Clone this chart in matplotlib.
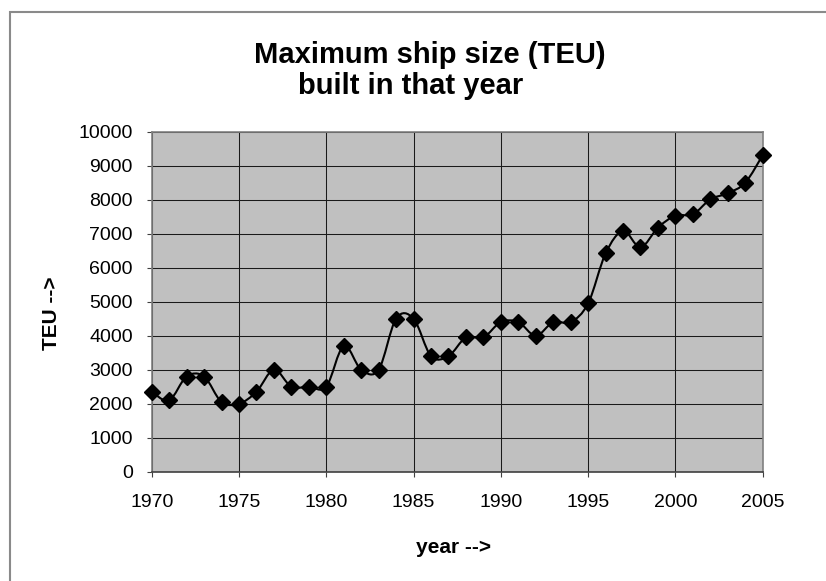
import numpy as np
import matplotlib
matplotlib.use("Agg")
import matplotlib.pyplot as plt
from matplotlib.path import Path
from matplotlib.patches import PathPatch, Rectangle

plt.rcParams['font.family'] = ['Liberation Sans', 'DejaVu Sans']

years = list(range(1970, 2006))
teu = [2350, 2100, 2800, 2800, 2050, 2000, 2350, 3000, 2500, 2500,
       2500, 3700, 3000, 3000, 4500, 4500, 3400, 3400, 3950, 3950,
       4400, 4400, 4000, 4400, 4400, 4950, 6420, 7080, 6600, 7180,
       7530, 7570, 8010, 8190, 8500, 9310]

title_1 = "Maximum ship size (TEU)"
title_2 = "built in that year"
xlabel = "year -->"
ylabel = "TEU -->"

W, H = 826, 581
fig = plt.figure(figsize=(W / 100, H / 100), dpi=100)
# outer chart border, runs off the right and bottom edges
fig.patches.append(Rectangle((9.5 / W, -0.02), 1.0, 1 - 12 / H + 0.02,
                             transform=fig.transFigure, fill=False,
                             edgecolor='#8a8a8a', linewidth=1.5))

ax = fig.add_axes([151.7 / W, 1 - 471.7 / H, (762.7 - 151.7) / W, (471.7 - 131.7) / H])
ax.set_facecolor('#c0c0c0')

# smoothed line: bezier segments through the data points
x = np.array(years, dtype=float)
y = np.array(teu, dtype=float)
verts = [(x[0], y[0])]
codes = [Path.MOVETO]
n = len(x)
for i in range(n - 1):
    p0 = (x[max(i - 1, 0)], y[max(i - 1, 0)])
    p1 = (x[i], y[i])
    p2 = (x[i + 1], y[i + 1])
    p3 = (x[min(i + 2, n - 1)], y[min(i + 2, n - 1)])
    c1 = (p1[0] + (p2[0] - p0[0]) / 6, p1[1] + (p2[1] - p0[1]) / 6)
    c2 = (p2[0] - (p3[0] - p1[0]) / 6, p2[1] - (p3[1] - p1[1]) / 6)
    verts += [c1, c2, p2]
    codes += [Path.CURVE4, Path.CURVE4, Path.CURVE4]
ax.add_patch(PathPatch(Path(verts, codes), facecolor='none', edgecolor='black',
                       linewidth=1.5, zorder=3, clip_on=False))
ax.plot(years, teu, linestyle='none', marker='D', markersize=8.5,
        color='black', zorder=4, clip_on=False)

ax.set_xlim(1970, 2005)
ax.set_ylim(0, 10000)
ax.set_xticks(range(1970, 2006, 5))
ax.set_yticks(range(0, 10001, 1000))
ax.grid(True, color='#1a1a1a', linewidth=0.75)
ax.set_axisbelow(True)
ax.tick_params(axis='both', labelsize=14, length=3.6, width=0.8,
               direction='out', color='#404040')
ax.tick_params(axis='x', pad=12.5)
ax.tick_params(axis='y', pad=10)

for side in ['top', 'right', 'left']:
    ax.spines[side].set_color('#808080')
    ax.spines[side].set_linewidth(1.2)
ax.spines['bottom'].set_color('#404040')
ax.spines['bottom'].set_linewidth(1.2)

fig.text(430 / W, 1 - 63.3 / H, title_1, ha='center', va='baseline',
         fontsize=21, fontweight='bold')
fig.text(411 / W, 1 - 94 / H, title_2, ha='center', va='baseline',
         fontsize=21, fontweight='bold')
fig.text(454 / W, 1 - 553.3 / H, xlabel, ha='center', va='baseline',
         fontsize=15, fontweight='bold')
fig.text(51.7 / W, 1 - 313 / H, ylabel, ha='center', va='center',
         fontsize=15, fontweight='bold', rotation=90)

fig.savefig("out.png", dpi=100)
